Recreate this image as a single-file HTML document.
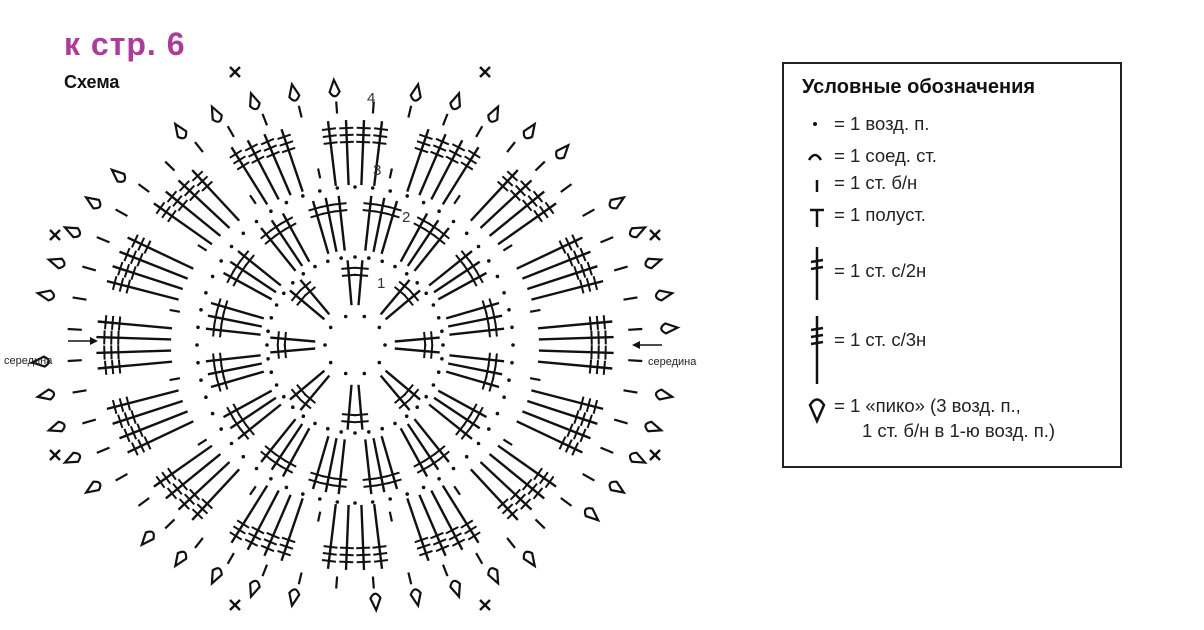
<!DOCTYPE html>
<html><head><meta charset="utf-8"><style>
body{margin:0;background:#fff;width:1204px;height:630px;overflow:hidden;position:relative;font-family:"Liberation Sans",sans-serif}
.t{position:absolute;white-space:nowrap}
#leg{position:absolute;left:782px;top:62px;width:336px;height:402px;border:2px solid #222;background:#fff}
.r{position:absolute;left:50px;font-size:18.5px;color:#222;white-space:nowrap}
</style></head><body>
<div class="t" style="left:64px;top:26px;font-size:32px;font-weight:bold;color:#b0399e;letter-spacing:1px">к стр. 6</div>
<div class="t" style="left:64px;top:72px;font-size:18px;font-weight:bold;color:#111">Схема</div>
<div class="t" style="left:648px;top:356px;font-size:11px;color:#222">середина</div>
<svg id="d" width="1204" height="630" style="position:absolute;left:0;top:0"></svg>
<div class="t" style="left:4px;top:355px;font-size:11px;color:#222">середина</div>
<div id="leg">
<div class="t" style="left:18px;top:12px;font-size:20px;font-weight:bold;color:#111">Условные обозначения</div>
<div class="r" style="top:49px">= 1 возд. п.</div>
<div class="r" style="top:81px">= 1 соед. ст.</div>
<div class="r" style="top:108px">= 1 ст. б/н</div>
<div class="r" style="top:140px">= 1 полуст.</div>
<div class="r" style="top:196px">= 1 ст. с/2н</div>
<div class="r" style="top:265px">= 1 ст. с/3н</div>
<div class="r" style="top:331px">= 1 «пико» (3 возд. п.,</div>
<div class="r" style="top:356px;left:78px">1 ст. б/н в 1-ю возд. п.)</div>
<svg width="336" height="402" style="position:absolute;left:0;top:0" stroke="#111" stroke-width="2.5" fill="none">
<circle cx="31" cy="60" r="2" fill="#111" stroke="none"/>
<path d="M25 96 Q31 86 37 96"/>
<line x1="33" y1="116" x2="33" y2="128"/>
<line x1="33" y1="145" x2="33" y2="163"/><line x1="26" y1="146" x2="40" y2="146"/>
<line x1="33" y1="183" x2="33" y2="236"/><line x1="27" y1="198" x2="39" y2="196"/><line x1="27" y1="205" x2="39" y2="203"/>
<line x1="33" y1="252" x2="33" y2="320"/><line x1="27" y1="266" x2="39" y2="264"/><line x1="27" y1="273" x2="39" y2="271"/><line x1="27" y1="280" x2="39" y2="278"/>
<path d="M33 357 L26 341 Q33 330 40 341 Z"/>
</svg>
</div>
<script>
var s='',cx=355,cy=345,K='#111';
function P(r,a,sx,sy){a=a*Math.PI/180;return [cx+r*Math.cos(a)*(sx||1),cy-r*Math.sin(a)*(sy||1)];}
function L(a,b,w){s+='<line x1="'+a[0].toFixed(1)+'" y1="'+a[1].toFixed(1)+'" x2="'+b[0].toFixed(1)+'" y2="'+b[1].toFixed(1)+'" stroke="'+K+'" stroke-width="'+(w||2.4)+'"/>';}
function D(p){s+='<circle cx="'+p[0].toFixed(1)+'" cy="'+p[1].toFixed(1)+'" r="1.8" fill="'+K+'"/>';}
function stitch(a,r1,r2,bars,sx,sy){var p1=P(r1,a,sx,sy),p2=P(r2,a,sx,sy);L(p1,p2);
 var dx=p2[0]-p1[0],dy=p2[1]-p1[1],l=Math.hypot(dx,dy),ux=dx/l,uy=dy/l;
 for(var i=0;i<bars;i++){var t=l-8-i*7;var mx=p1[0]+ux*t,my=p1[1]+uy*t;L([mx-uy*7,my+ux*7],[mx+uy*7,my-ux*7],2);}}
function ring(r,n,sx,sy){for(var i=0;i<n;i++)D(P(r,i*360/n,sx,sy));}
ring(30,10);ring(88,40);
for(var k=0;k<8;k++){var a=k*45;stitch(a-5,40,85,2);stitch(a+5,40,85,2);}
for(var k=0;k<16;k++){var a=k*22.5+11.25;for(var j=-1;j<=1;j++)stitch(a+j*5,95,150,2);}
ring(158,56);
for(var k=0;k<16;k++){var a=k*22.5;for(var j=-1.5;j<=1.5;j++)stitch(a+j*4,160,225,3,1.15,1);}
for(var k=0;k<16;k++){var a=k*22.5+11.25;var p1=P(170,a,1.05,1),p2=P(180,a,1.05,1);L(p1,p2,2.2);}
for(var i=0;i<48;i++){var a=i*7.5+3.75;L(P(232,a,1.18,1),P(244,a,1.18,1),2.2);}
for(var i=0;i<48;i++){var a=i*7.5+3.75;if(i%6==5)continue;var c=P(262,a,1.2,0.98);
 var ang=-a+90;s+='<path transform="translate('+c[0].toFixed(1)+','+c[1].toFixed(1)+') rotate('+ang.toFixed(1)+')" d="M0 -9 L-5 3 Q0 12 5 3 Z" fill="#fff" stroke="'+K+'" stroke-width="2.2"/>';}
var X=[[235,72],[485,72],[55,235],[655,235],[55,455],[655,455],[235,605],[485,605]];
X.forEach(function(p){L([p[0]-5,p[1]-5],[p[0]+5,p[1]+5],2.4);L([p[0]-5,p[1]+5],[p[0]+5,p[1]-5],2.4);});
L([68,341],[90,341],1.5);s+='<path d="M90 337 L98 341 L90 345Z" fill="#111"/>';
L([640,345],[662,345],1.5);s+='<path d="M640 341 L632 345 L640 349Z" fill="#111"/>';
s+='<text x="367" y="103" font-size="15" font-family="Liberation Sans" fill="#333">4</text>';
s+='<text x="373" y="175" font-size="15" font-family="Liberation Sans" fill="#333">3</text>';
s+='<text x="402" y="222" font-size="15" font-family="Liberation Sans" fill="#333">2</text>';
s+='<text x="377" y="288" font-size="15" font-family="Liberation Sans" fill="#333">1</text>';
document.getElementById('d').innerHTML=s;
</script>
</body></html>
